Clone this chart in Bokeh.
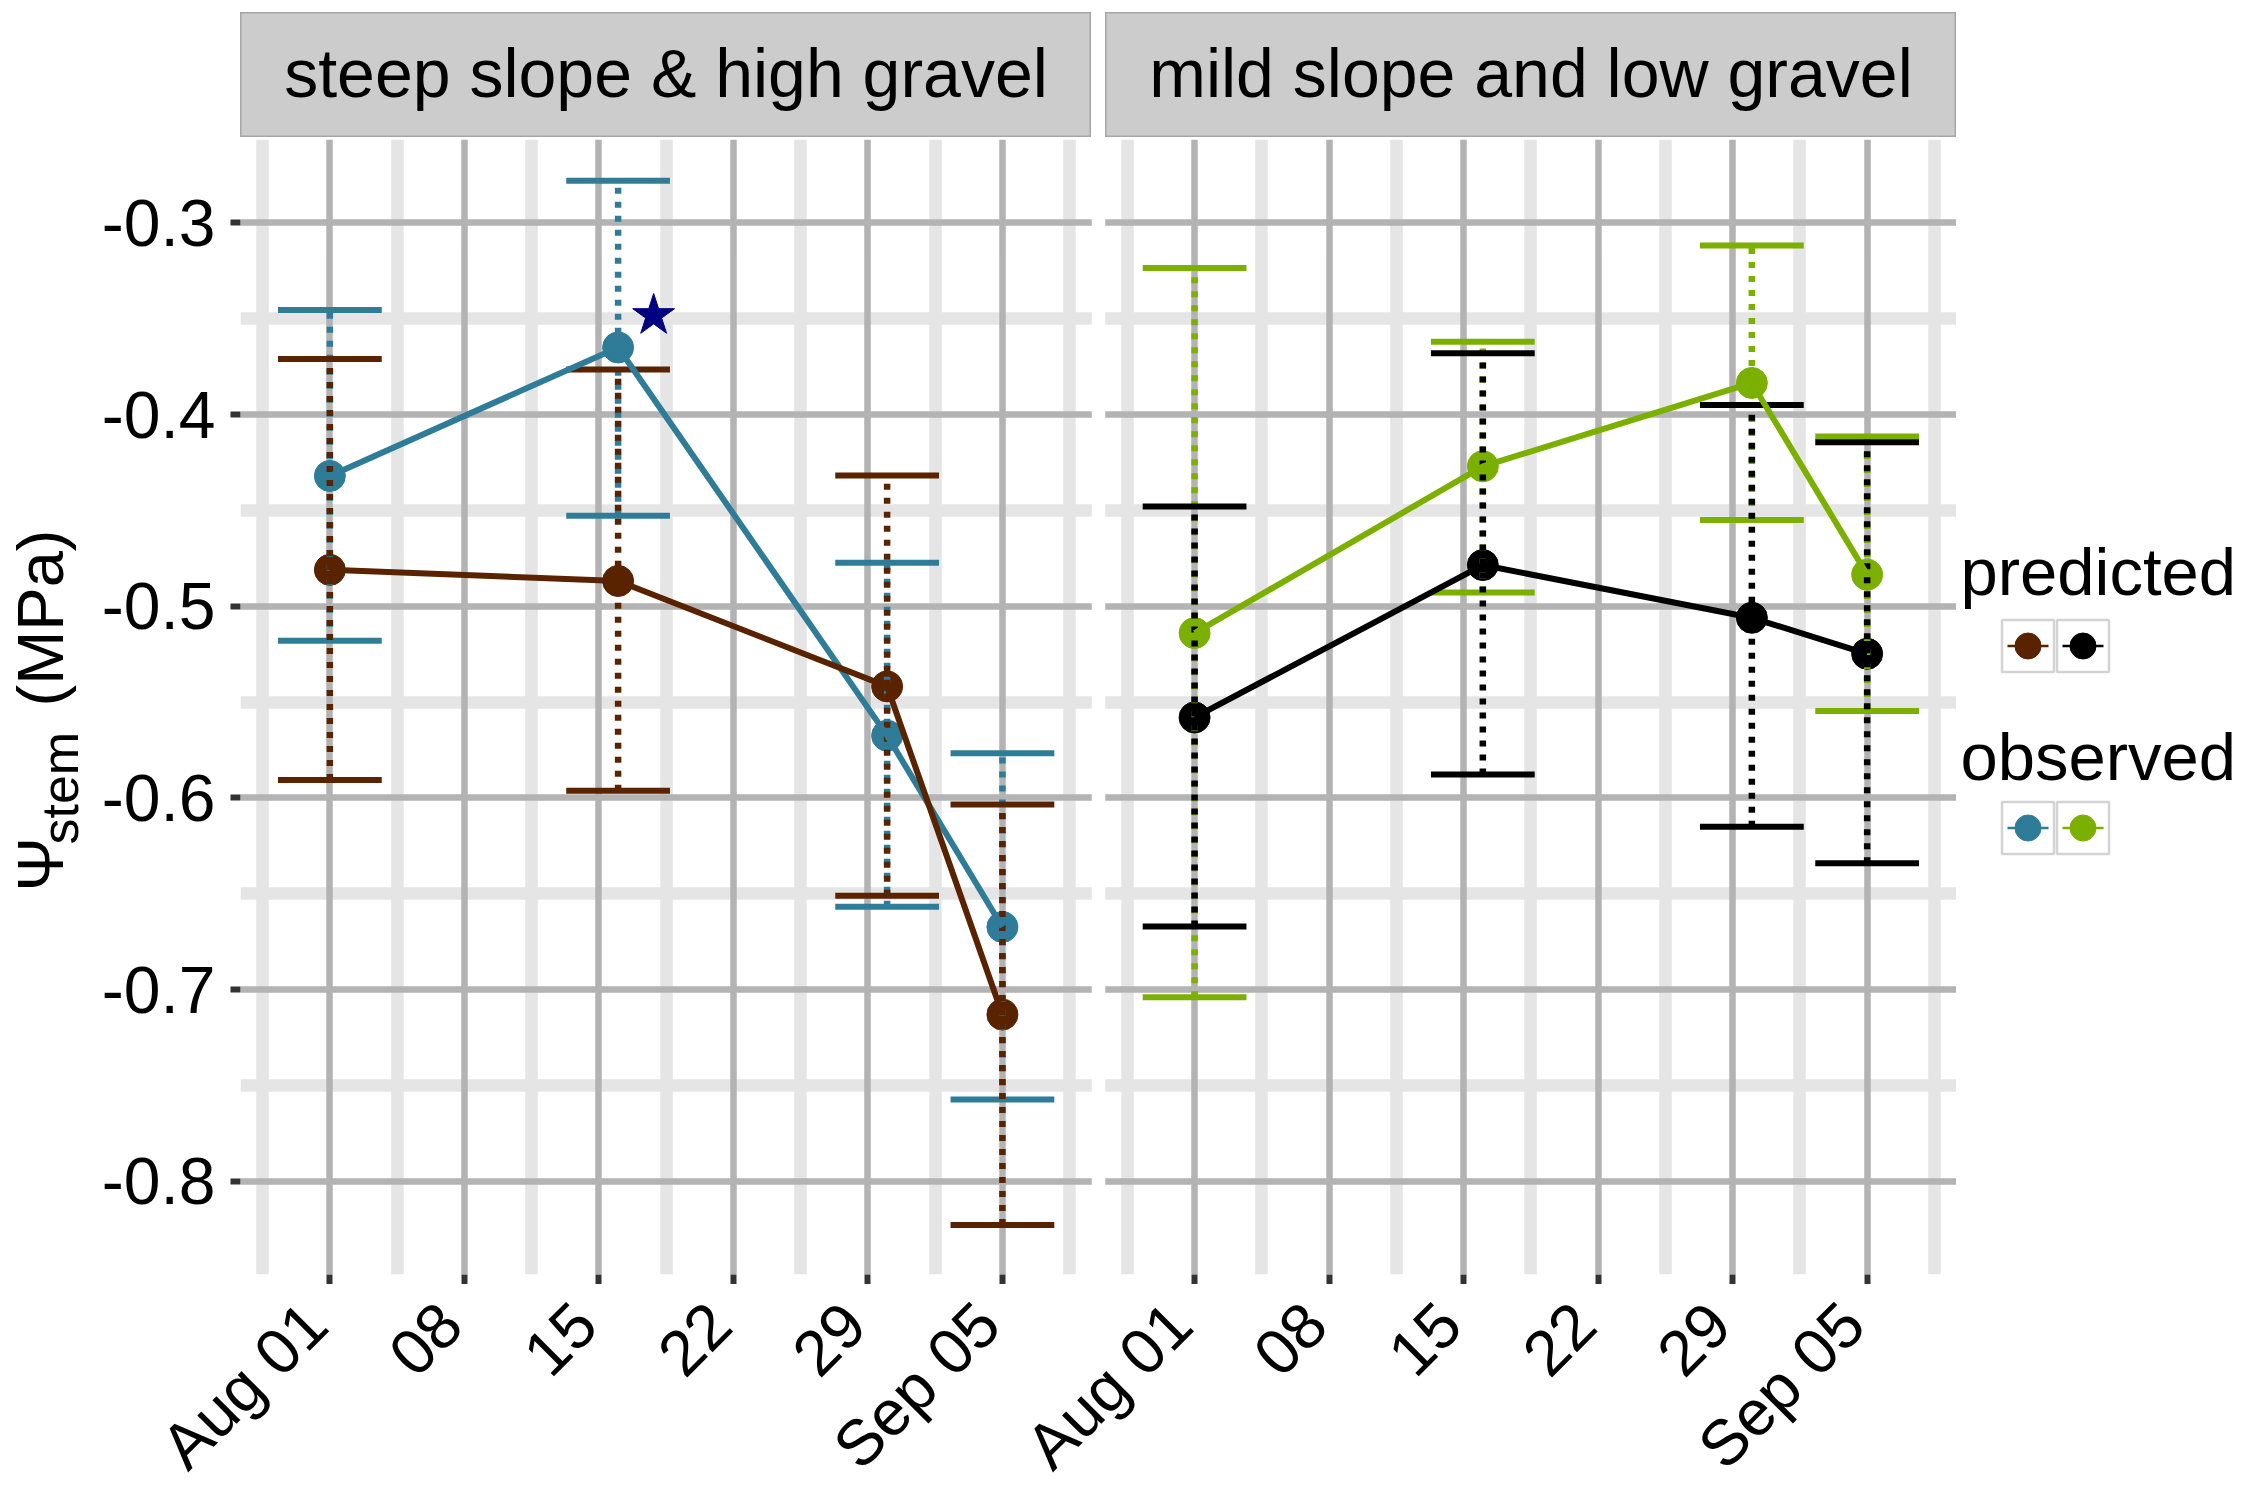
import math
import pandas as pd
from bokeh.plotting import figure
from bokeh.models import (ColumnDataSource, FixedTicker, Grid, Range1d, Label,
                          Legend, LegendItem, BoxAnnotation, Spacer)
from bokeh.layouts import column, row
from bokeh.core.properties import value
from bokeh.embed import file_html
from bokeh.resources import INLINE

# ---------------- data ----------------
panel_names = ["steep slope & high gravel", "mild slope and low gravel"]
dates = ["2019-08-01", "2019-08-16", "2019-08-30", "2019-09-05"]
tick_dates = ["2019-08-01", "2019-08-08", "2019-08-15", "2019-08-22", "2019-08-29", "2019-09-05"]
tick_labels = ["Aug 01", "08", "15", "22", "29", "Sep 05"]
y_ticks = [-0.8, -0.7, -0.6, -0.5, -0.4, -0.3]
y_tick_labels = ["-0.8", "-0.7", "-0.6", "-0.5", "-0.4", "-0.3"]
y_minor = [-0.75, -0.65, -0.55, -0.45, -0.35]

steep_obs_mean = [-0.432, -0.365, -0.5675, -0.6673]
steep_obs_lower = [-0.518, -0.4528, -0.6568, -0.7573]
steep_obs_upper = [-0.3455, -0.278, -0.4773, -0.5767]
steep_pred_mean = [-0.481, -0.4868, -0.5418, -0.713]
steep_pred_lower = [-0.5906, -0.5963, -0.651, -0.8228]
steep_pred_upper = [-0.371, -0.3765, -0.4318, -0.6034]

mild_obs_mean = [-0.514, -0.427, -0.3835, -0.4835]
mild_obs_lower = [-0.704, -0.4928, -0.455, -0.5547]
mild_obs_upper = [-0.3235, -0.362, -0.3118, -0.4115]
mild_pred_mean = [-0.558, -0.4785, -0.506, -0.5248]
mild_pred_lower = [-0.667, -0.5877, -0.615, -0.634]
mild_pred_upper = [-0.448, -0.368, -0.395, -0.4145]

star_date = ["2019-08-17 20:24"]
star_value = [-0.3483]

legend_titles = ["predicted", "observed"]

# ---------------- styles ----------------
C_OBS = ["#2F7C99", "#7BB000"]
C_PRED = ["#5A2300", "#000000"]
FONT = "Liberation Sans"
SHIFT = 45            # horizontal offset of the second facet (days)
X_LO, X_HI = -4.65, 39.65
Y_LO, Y_HI = -0.8486, -0.2565
CAP_HALF = 2.7
MAJ_COL, MIN_COL = "#B3B3B3", "#E5E5E5"
FRAME_W, FRAME_H = 1716, 1135
LEFT = 240            # pixels left of the first facet
YLAB_W = 92
BOTTOM = 10
PPD = FRAME_W / (X_HI + SHIFT - X_LO)   # pixels per day

origin = pd.Timestamp(dates[0])


def to_days(ds):
    return [float((pd.Timestamp(d) - origin) / pd.Timedelta(days=1)) for d in ds]


day = to_days(dates)
tick_day = [int(round(v)) for v in to_days(tick_dates)]

series = [
    (steep_obs_mean, steep_obs_lower, steep_obs_upper, steep_pred_mean, steep_pred_lower, steep_pred_upper),
    (mild_obs_mean, mild_obs_lower, mild_obs_upper, mild_pred_mean, mild_pred_lower, mild_pred_upper),
]

# ---------------- main figure (both facets) ----------------
p = figure(frame_width=FRAME_W, frame_height=FRAME_H,
           x_range=Range1d(X_LO, X_HI + SHIFT), y_range=Range1d(Y_LO, Y_HI),
           min_border_left=LEFT - YLAB_W, min_border_right=0, min_border_top=2,
           min_border_bottom=BOTTOM,
           toolbar_location=None, output_backend="svg",
           outline_line_color=None, background_fill_color="white", border_fill_color="white")

x_major = [t + k * SHIFT for k in range(2) for t in tick_day]
x_tick_text = [lab for k in range(2) for lab in tick_labels]
x_minor = []
for k in range(2):
    base = [tick_day[0] - 3.5] + [t + 3.5 for t in tick_day]
    x_minor += [b + k * SHIFT for b in base]
xticker = FixedTicker(ticks=x_major, minor_ticks=x_minor)
yticker = FixedTicker(ticks=y_ticks, minor_ticks=y_minor)

p.xaxis.ticker = xticker
p.yaxis.ticker = yticker
p.xaxis.major_label_overrides = {t: "" for t in x_major}
p.yaxis.major_label_overrides = dict(zip(y_ticks, y_tick_labels))

# minor grids first, then major grids on top
p.xgrid.ticker = xticker
p.ygrid.ticker = yticker
for g in (p.xgrid[0], p.ygrid[0]):
    g.grid_line_color = None
    g.minor_grid_line_color = MIN_COL
    g.minor_grid_line_width = 12.5
p.add_layout(Grid(dimension=0, ticker=xticker, grid_line_color=MAJ_COL, grid_line_width=6.5))
p.add_layout(Grid(dimension=1, ticker=yticker, grid_line_color=MAJ_COL, grid_line_width=6.5))

for ax in (p.xaxis[0], p.yaxis[0]):
    ax.axis_line_color = None
    ax.major_tick_line_color = "#333333"
    ax.major_tick_line_width = 6
    ax.major_tick_in = 0
    ax.major_tick_out = 10
    ax.minor_tick_line_color = None
    ax.major_label_text_font = FONT
    ax.major_label_text_color = "black"
p.yaxis.major_label_text_font_size = "66px"
p.yaxis.major_label_standoff = 15
p.xaxis.major_label_text_font_size = "1px"
p.xaxis.major_label_standoff = 0

sources = []
for k, (om, ol, ou, pm, pl, pu) in enumerate(series):
    xs = [d + k * SHIFT for d in day]
    so = ColumnDataSource(dict(x=xs, m=om, lo=ol, hi=ou,
                               x0=[v - CAP_HALF for v in xs], x1=[v + CAP_HALF for v in xs]))
    sp = ColumnDataSource(dict(x=xs, m=pm, lo=pl, hi=pu,
                               x0=[v - CAP_HALF for v in xs], x1=[v + CAP_HALF for v in xs]))
    sources.append((so, sp))


def colour(k, which):
    return C_OBS[k] if which == 0 else C_PRED[k]


# points (predicted, observed)
for which in (1, 0):
    for k in range(2):
        p.scatter(x="x", y="m", source=sources[k][which], size=31,
                  fill_color=colour(k, which), line_color=colour(k, which))
# error bars (observed, then predicted)
for which in (0, 1):
    for k in range(2):
        src = sources[k][which]
        col = colour(k, which)
        p.segment(x0="x", y0="lo", x1="x", y1="hi", source=src, line_color=col,
                  line_width=6.5, line_dash="6 8")
        p.segment(x0="x0", y0="hi", x1="x1", y1="hi", source=src, line_color=col, line_width=6)
        p.segment(x0="x0", y0="lo", x1="x1", y1="lo", source=src, line_color=col, line_width=6)
# lines
for which in (0, 1):
    for k in range(2):
        p.line(x="x", y="m", source=sources[k][which], line_color=colour(k, which), line_width=6)

# significance star
p.scatter(x=to_days(star_date), y=star_value, marker="star", size=44,
          fill_color="#000080", line_color="#000080")

# white gap between facets
p.add_layout(BoxAnnotation(left=X_HI, right=X_LO + SHIFT, fill_color="white", fill_alpha=1,
                           line_color=None))

# ---------------- y-axis title (own narrow figure) ----------------
yl = figure(frame_width=YLAB_W, frame_height=FRAME_H, x_range=Range1d(0, 1), y_range=Range1d(0, 1),
            x_axis_location=None, y_axis_location=None, toolbar_location=None,
            output_backend="svg", min_border_left=0, min_border_right=0, min_border_top=2,
            min_border_bottom=BOTTOM, outline_line_color=None, background_fill_color="white",
            border_fill_color="white")
yl.grid.visible = False
for txt, sx, sy, fs in (("Ψ", 40, 383, "65px"), ("stem", 59, 430, "52px"), ("(MPa)", 40, 568, "65px")):
    yl.add_layout(Label(x=sx, y=sy, x_units="screen", y_units="screen", text=txt,
                        angle=math.pi / 2, text_font=FONT, text_font_size=fs,
                        text_align="left", text_baseline="middle", text_color="black"))

# ---------------- facet strips ----------------
def make_strip(name):
    s = figure(frame_width=851, frame_height=125, x_range=Range1d(0, 1), y_range=Range1d(0, 1),
               x_axis_location=None, y_axis_location=None, toolbar_location=None,
               output_backend="svg", min_border=0, background_fill_color="#CCCCCC",
               outline_line_color="#A6A6A6", outline_line_width=2)
    s.grid.visible = False
    s.text(x=[0.5], y=[0.515], text=[name], text_font=value(FONT), text_font_size="68px",
           text_align="center", text_baseline="middle", text_color="black")
    return s


strip_row = row(Spacer(width=LEFT, height=125), make_strip(panel_names[0]),
                Spacer(width=14, height=125), make_strip(panel_names[1]))

# ---------------- legend panel ----------------
lg = figure(frame_width=286, frame_height=FRAME_H, x_range=Range1d(0, 1), y_range=Range1d(0, 1),
            x_axis_location=None, y_axis_location=None, toolbar_location=None,
            output_backend="svg", min_border_left=0, min_border_right=0, min_border_top=2,
            min_border_bottom=BOTTOM, outline_line_color=None, background_fill_color="white",
            border_fill_color="white")
lg.grid.visible = False


def key_renderers(src, color):
    # renderers share the real data; their marks fall outside this panel's ranges
    box = lg.rect(x="x", y="m", width=0.01, height=0.01, source=src, fill_color="white",
                  line_color="#D3D3D3", line_width=2.5)
    ln = lg.line(x="x", y="m", source=src, line_color=color, line_width=2.5,
                 line_dash="0 12 41 100")
    pt = lg.scatter(x="x", y="m", source=src, size=26, fill_color=color, line_color=color)
    return [box, ln, pt]


KEY_STEP = 55
for which, title, ty, ly in ((1, legend_titles[0], 703, 596), (0, legend_titles[1], 518, 414.5)):
    lg.add_layout(Label(x=4, y=ty, x_units="screen", y_units="screen", text=title,
                        text_font=FONT, text_font_size="67px", text_align="left",
                        text_baseline="middle", text_color="black"))
    for k in range(2):
        item = LegendItem(label=" ", renderers=key_renderers(sources[k][which], colour(k, which)))
        leg = Legend(items=[item], location=(38.5 + k * KEY_STEP, ly), orientation="horizontal",
                     glyph_width=65, glyph_height=65, label_standoff=0, label_width=0,
                     label_height=0, spacing=0, padding=0, margin=0, border_line_color=None,
                     background_fill_alpha=0, label_text_font_size="1px")
        lg.add_layout(leg, "center")

# ---------------- rotated x tick labels (own strip below) ----------------
LAB_H = 202
lab = figure(frame_width=LEFT + FRAME_W, frame_height=LAB_H,
             x_range=Range1d(X_LO - LEFT / PPD, X_HI + SHIFT), y_range=Range1d(0, LAB_H),
             x_axis_location=None, y_axis_location=None, toolbar_location=None,
             output_backend="svg", min_border=0, outline_line_color=None,
             background_fill_color="white", border_fill_color="white")
lab.grid.visible = False
lab_src = ColumnDataSource(dict(x=x_major, text=x_tick_text))
lab.text(x="x", y=LAB_H - 29, text="text", source=lab_src, angle=math.pi / 4,
         x_offset=-14, text_font=value(FONT), text_font_size="64px",
         text_align="right", text_baseline="middle", text_color="black")

layout = column(Spacer(width=10, height=12), strip_row, row(yl, p, lg), lab)

open("out.html", "w").write(file_html(layout, INLINE))
